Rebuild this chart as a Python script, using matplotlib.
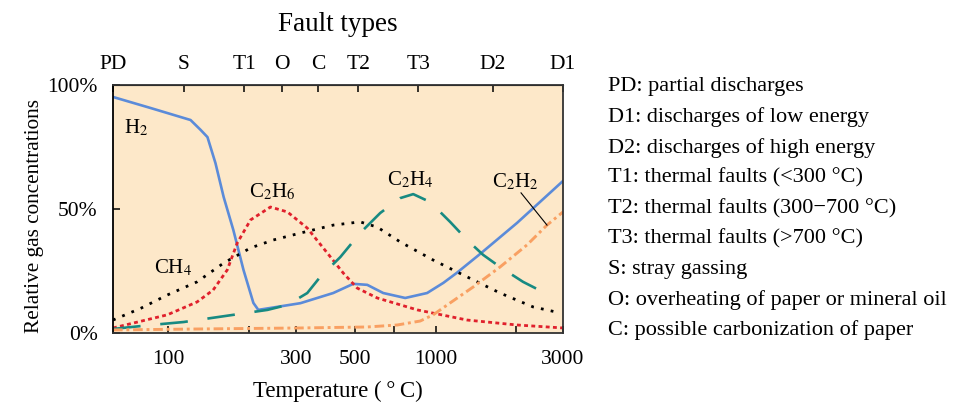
import matplotlib
matplotlib.use("Agg")
import matplotlib.pyplot as plt

plt.rcParams["font.family"] = ["Liberation Serif", "DejaVu Serif"]
plt.rcParams["mathtext.fontset"] = "stix"

# curves: temperature (degC) vs relative concentration (%)
h2_temp = [62, 86, 121, 132, 140, 150, 161, 175, 191, 208, 217, 312, 414, 492,
           555, 637, 770, 930, 1070, 1200, 1470, 2020, 3000]
h2_pct = [95.2, 90.7, 85.9, 81.9, 79.0, 68.5, 54.8, 41.5, 25.4, 12.1, 9.3, 12.0,
          16.1, 19.8, 19.4, 16.1, 14.1, 16.1, 20.2, 24.2, 31.9, 44.4, 61.3]

c2h6_temp = [62, 74, 99, 128, 147, 166, 181, 203, 241, 279, 331, 393, 451, 509,
             605, 854, 1313, 2020, 3000]
c2h6_pct = [2.0, 4.0, 7.3, 12.5, 17.3, 25.4, 36.3, 45.6, 50.8, 48.8, 42.3, 32.3,
            24.2, 18.1, 14.1, 9.3, 5.2, 3.2, 2.0]

ch4_temp = [62, 79, 99, 128, 161, 203, 247, 312, 414, 522, 605, 738, 980, 1313,
            1744, 2317, 2924]
ch4_pct = [5.2, 10.0, 15.3, 20.6, 28.2, 34.3, 37.5, 40.3, 43.5, 44.8, 42.7, 36.7,
           29.4, 22.6, 16.1, 10.5, 8.1]

c2h4_temp = [62, 86, 114, 175, 235, 279, 331, 370, 440, 522, 621, 738, 825, 955,
             1134, 1313, 1507, 1744, 2127, 2526]
c2h4_pct = [1.6, 3.2, 4.4, 7.3, 9.3, 11.3, 16.1, 22.6, 30.6, 40.3, 48.4, 54.4,
            56.0, 52.8, 44.8, 37.5, 31.5, 26.6, 20.6, 16.5]

c2h2_temp = [62, 132, 312, 555, 719, 876, 980, 1134, 1382, 1744, 2200, 2614, 3000]
c2h2_pct = [1.2, 1.6, 2.0, 2.4, 3.2, 4.8, 7.3, 12.1, 18.5, 26.6, 35.5, 43.5, 48.8]

# fault types on the top axis
fault_types = ["PD", "S", "T1", "O", "C", "T2", "T3", "D2", "D1"]
fault_temps = [62, 114, 192, 267, 364, 513, 861, 1642, 3000]

temp_ticks = [100, 200, 300, 500, 700, 1000, 2000, 3000]
temp_labels = ["100", "", "300", "500", "", "1000", "", "3000"]

pct_ticks = [0, 50, 100]
pct_labels = ["0%", "50%", "100%"]

legend_lines = [
    "PD: partial discharges",
    "D1: discharges of low energy",
    "D2: discharges of high energy",
    "T1: thermal faults (<300 \u00b0C)",
    "T2: thermal faults (300\u2212700 \u00b0C)",
    "T3: thermal faults (>700 \u00b0C)",
    "S: stray gassing",
    "O: overheating of paper or mineral oil",
    "C: possible carbonization of paper",
]

fig = plt.figure(figsize=(9.74, 4.07), dpi=100)
ax = fig.add_axes([0.116, 0.182, 0.462, 0.609])
ax.set_facecolor("#fde8c9")

ax.plot(h2_temp, h2_pct, color="#5b8bd9", lw=1.9, solid_joinstyle="round")
ax.plot(c2h6_temp, c2h6_pct, color="#e0202c", lw=2.0, ls=(0, (1.4, 1.2)))
ax.plot(ch4_temp, ch4_pct, color="black", lw=2.0, ls=(0, (1.0, 2.6)))
ax.plot(c2h4_temp, c2h4_pct, color="#178a82", lw=1.9, ls=(0, (10.5, 7.5)))
ax.plot(c2h2_temp, c2h2_pct, color="#f9a062", lw=2.1, ls=(0, (3.3, 1.3, 1.0, 1.3)))

ax.set_xscale("log")
ax.set_xlim(62, 3000)
ax.set_ylim(0, 100)
ax.set_xticks(temp_ticks, temp_labels)
ax.minorticks_off()
ax.set_yticks(pct_ticks, pct_labels)
ax.tick_params(axis="both", direction="in", length=5, width=1.1, labelsize=15.5)
ax.tick_params(axis="x", pad=12)
ax.tick_params(axis="y", pad=11)
for s in ax.spines.values():
    s.set_color("#333333")
    s.set_linewidth(1.3)
ax.spines["left"].set_color("black")

top = ax.secondary_xaxis("top")
top.set_xscale("log")
top.set_xticks(fault_temps, fault_types)
top.minorticks_off()
top.tick_params(direction="in", length=5, width=1.1, labelsize=15.5, pad=8)
top.set_xlabel("Fault types", fontsize=19.5, labelpad=17)

ax.set_xlabel("Temperature (\u2009\u00b0\u2009C)", fontsize=16.5, labelpad=9)
ax.set_ylabel("Relative gas concentrations", fontsize=15.3)
ax.yaxis.set_label_coords(-0.153, 0.47)

lab = dict(fontsize=15, ha="center", va="center")
ax.text(76, 82.7, "H$_2$", **lab)
ax.text(245, 56.9, "C$_2$H$_6$", **lab)
ax.text(804, 61.7, "C$_2$H$_4$", **lab)
ax.text(104, 26.2, "CH$_4$", **lab)
ax.text(1985, 60.9, "C$_2$H$_2$", **lab)
ax.plot([2090, 2614], [56.5, 43.5], color="black", lw=0.8)

for i, line in enumerate(legend_lines):
    fig.text(0.624, 1 - (87 + 30.4 * i) / 407, line, fontsize=16, va="center", ha="left")

fig.savefig("out.png", dpi=100)
